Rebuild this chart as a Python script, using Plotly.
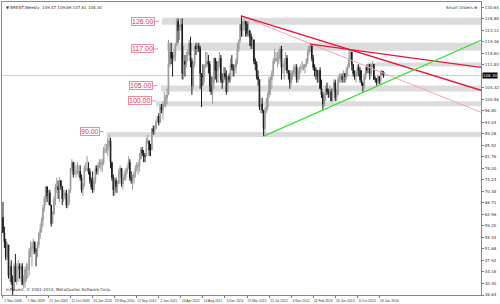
import plotly.graph_objects as go
import pandas as pd

# ---------------- data (weekly BRENT) ----------------
start_date = "2008-11-02"
first_open = 62.0

c2008 = [57, 54, 49, 53, 43, 46, 41, 38, 46]
h2008 = [67, 59, 55, 54, 52, 47, 48, 43, 47]
l2008 = [57, 52, 48, 48, 42, 41, 40, 36.5, 38]

c2009 = [41, 45, 46, 45, 46, 40, 41, 45, 45, 45, 51, 52, 52, 54, 51, 51, 53, 57, 58, 61, 65, 68, 72, 69, 70, 66,
         60, 63, 68, 72, 72, 71, 74, 72, 68, 69, 70, 66, 67, 71, 78, 80, 76, 77, 77, 77, 77, 75, 71, 73, 78, 78]
h2009 = [50, 47, 48, 47, 47, 47, 43, 46, 47, 47, 52, 54, 54, 55, 54, 52, 54, 57, 60, 62, 66, 69, 72, 72, 71, 71,
         66, 64, 69, 73, 75, 74, 75, 74, 72, 71, 71, 71, 69, 71, 78, 81, 80, 80, 79, 80, 79, 79, 76, 73, 79, 80]
l2009 = [41, 40, 41, 42, 41, 40, 39, 39, 41, 42, 43, 49, 46, 50, 50, 46, 49, 52, 55, 57, 59, 64, 66, 67, 66, 66,
         59, 60, 63, 66, 70, 68, 67, 71, 66, 67, 68, 65, 65, 66, 70, 77, 75, 76, 75, 76, 75, 74, 70, 69, 72, 77]

c2010 = [78, 77, 74, 72, 71, 74, 78, 77, 79, 79, 80, 80, 84, 84, 84, 87, 87, 80, 75, 71, 74, 72, 73, 77, 78, 73,
         75, 75, 77, 78, 80, 75, 74, 75, 76, 78, 79, 79, 81, 84, 83, 82, 82, 87, 87, 84, 84, 91, 90, 91, 93, 95]
h2010 = [82, 80, 78, 75, 77, 75, 79, 79, 80, 81, 81, 81, 85, 86, 86, 88, 89, 88, 80, 76, 75, 75, 74, 78, 79, 78,
         76, 77, 78, 79, 82, 81, 77, 76, 77, 79, 80, 80, 83, 85, 85, 84, 83, 88, 89, 87, 86, 91, 92, 92, 94, 95]
l2010 = [77, 76, 73, 71, 70, 70, 73, 76, 76, 78, 77, 77, 79, 83, 83, 82, 85, 78, 74, 69, 69, 70, 70, 73, 75, 72,
         71, 74, 74, 76, 78, 74, 73, 71, 73, 75, 77, 76, 77, 81, 82, 80, 80, 83, 86, 82, 82, 84, 89, 89, 91, 93]

c2011 = [93, 98, 97, 99, 99, 101, 102, 112, 116, 114, 114, 115, 118, 126, 123, 124, 125, 109, 113, 112, 115, 115,
         119, 113, 105, 112, 118, 117, 118, 117, 109, 108, 108, 111, 112, 113, 112, 105, 103, 106, 114, 110, 110,
         113, 114, 107, 106, 109, 108, 103, 108, 107]
h2011 = [96, 99, 99, 100, 103, 102, 104, 120, 119, 119, 116, 117, 119, 127, 127, 125, 127, 127, 118, 115, 116, 117,
         120, 121, 114, 113, 118, 119, 119, 119, 118, 109, 112, 112, 116, 116, 115, 113, 108, 108, 114, 114, 113,
         113, 116, 115, 109, 111, 111, 110, 108, 109]
l2011 = [92, 93, 96, 94, 98, 98, 99, 103, 111, 112, 108, 113, 113, 118, 119, 120, 123, 107, 107, 108, 111, 113,
         115, 111, 102, 104, 111, 115, 116, 116, 104, 98, 105, 106, 111, 111, 109, 103, 102, 99, 104, 107, 106,
         106, 111, 106, 104, 107, 107, 102, 103, 106]

c2012 = [112, 111, 110, 111, 113, 117, 120, 125, 123, 126, 126, 125, 122, 123, 121, 118, 120, 113, 112, 108, 107,
         98, 99, 97, 91, 97, 98, 102, 107, 107, 109, 113, 113, 114, 114, 114, 117, 111, 112, 112, 114, 110, 109,
         106, 109, 109, 111, 111, 107, 109, 111, 111, 111]
h2012 = [114, 115, 112, 112, 114, 119, 120, 125, 128, 126, 127, 126, 126, 126, 123, 122, 121, 120, 114, 113, 110,
         107, 101, 101, 97, 98, 101, 103, 108, 108, 110, 114, 117, 116, 116, 117, 118, 118, 113, 114, 116, 115, 110,
         110, 110, 110, 112, 112, 112, 110, 111, 112, 113]
l2012 = [106, 110, 108, 108, 109, 112, 116, 119, 121, 121, 123, 121, 121, 121, 118, 117, 117, 112, 110, 107, 105,
         97, 96, 96, 88.5, 89, 96, 97, 101, 102, 104, 108, 112, 113, 111, 112, 113, 107, 109, 107, 110, 109, 107,
         104, 105, 107, 108, 108, 106, 106, 107, 109, 110]

c2013 = [111, 112, 113, 116, 118, 118, 114, 111, 110, 110, 108, 110, 104, 102, 99, 102, 104, 103, 102, 103, 100,
         104, 106, 101, 102, 107, 108, 108, 107, 109, 108, 110, 111, 114, 116, 112, 109, 108, 109, 111, 110, 107,
         106, 105, 108, 111, 110, 112, 109, 112, 112, 107]
h2013 = [112, 112, 114, 117, 118, 119, 118, 115, 112, 111, 110, 110, 111, 107, 103, 103, 105, 106, 104, 105, 104,
         104, 107, 107, 104, 108, 109, 109, 109, 110, 109, 111, 112, 117, 117, 115, 112, 110, 110, 112, 112, 111,
         110, 106, 109, 111, 112, 112, 112, 112, 113, 112]
l2013 = [110, 109, 111, 112, 115, 116, 113, 110, 108, 107, 106, 106, 104, 101, 97, 98, 100, 102, 101, 101, 100,
         100, 103, 100, 100, 102, 106, 106, 106, 106, 106, 107, 108, 111, 113, 110, 108, 107, 106, 108, 108, 106,
         105, 103, 104, 107, 109, 109, 107, 108, 111, 107]

c2014 = [107, 106, 108, 106.5, 109.5, 109.47, 108.30]
h2014 = [108, 107.5, 108.5, 108, 110, 110, 109.69]
l2014 = [106, 105, 105.5, 105.5, 105.5, 108.5, 107.61]

# date tick labels (MT4 style)
date_labels = ["2 Nov 2008", "1 Mar 2009", "21 Jun 2009", "11 Oct 2009", "31 Jan 2010", "23 May 2010",
               "12 Sep 2010", "2 Jan 2011", "24 Apr 2011", "14 Aug 2011", "4 Dec 2011", "25 Mar 2012",
               "15 Jul 2012", "4 Nov 2012", "24 Feb 2013", "16 Jun 2013", "6 Oct 2013", "26 Jan 2014"]

# horizontal support/resistance zones: (low, high, first bar index)
zone_low = [124.9, 116.4, 111.3, 103.1, 98.3, 88.2]
zone_high = [127.2, 119.0, 112.6, 105.1, 99.9, 89.9]
zone_start = [115.3, 118.9, 265.0, 114.6, 111.0, 75.2]

# level labels
level_values = [126.0, 117.0, 105.0, 100.0, 90.0]
level_label_x = [110.3, 109.6, 108.9, 108.2, 70.2]

# trend lines: (bar index, price) anchors
red_main = [(172.6, 127.8), (346.7, 103.5)]
red_second = [(222.8, 118.6), (346.7, 111.0)]
pink_line = [(172.6, 127.8), (346.7, 96.3)]
green_line = [(189.1, 88.5), (346.7, 119.8)]

bid_price = 108.30
title_text = "\u25bc BRENT,Weekly  109.47 109.69 107.61 108.30"

# ---------------- build ----------------
closes = c2008 + c2009 + c2010 + c2011 + c2012 + c2013 + c2014
highs_raw = h2008 + h2009 + h2010 + h2011 + h2012 + h2013 + h2014
lows_raw = l2008 + l2009 + l2010 + l2011 + l2012 + l2013 + l2014
opens = [first_open] + closes[:-1]
highs = [max(h, o, c) for h, o, c in zip(highs_raw, opens, closes)]
lows = [min(l, o, c) for l, o, c in zip(lows_raw, opens, closes)]
xs = list(range(len(closes)))

t0 = pd.Timestamp(start_date)
tick_pos = [(pd.Timestamp(s) - t0).days / 7.0 for s in date_labels]

fig = go.Figure()
fig.add_trace(go.Candlestick(
    x=xs, open=opens, high=highs, low=lows, close=closes,
    increasing=dict(line=dict(color="#9a9a9a", width=1), fillcolor="#9a9a9a"),
    decreasing=dict(line=dict(color="#1a1a1a", width=1), fillcolor="#1a1a1a"),
    whiskerwidth=0, hoverinfo="skip", showlegend=False,
))

shapes = []
for lo, hi, s in zip(zone_low, zone_high, zone_start):
    shapes.append(dict(type="rect", xref="x", yref="y", x0=s, x1=400, y0=lo, y1=hi,
                       fillcolor="#dcdcdc", line=dict(width=0), layer="below"))
shapes.append(dict(type="line", xref="paper", yref="y", x0=0, x1=1, y0=bid_price, y1=bid_price,
                   line=dict(color="#cfcfcf", width=1), layer="below"))
for v, lx in zip(level_values, level_label_x):
    shapes.append(dict(type="line", xref="x", yref="y", x0=lx, x1=lx + 2.9, y0=v, y1=v,
                       line=dict(color="#f08aa0", width=1)))
for pts, col, w in [(pink_line, "#f6a5b0", 1), (red_main, "#e5173a", 1.3),
                    (red_second, "#e5173a", 1.3), (green_line, "#3ee03e", 1.3)]:
    shapes.append(dict(type="line", xref="x", yref="y", x0=pts[0][0], y0=pts[0][1],
                       x1=pts[1][0], y1=pts[1][1], line=dict(color=col, width=w)))

annotations = []
for v, lx in zip(level_values, level_label_x):
    annotations.append(dict(x=lx, y=v, xref="x", yref="y", text="%.2f" % v, showarrow=False,
                            xanchor="right", yanchor="middle",
                            font=dict(family="Liberation Sans", size=7, color="#e2335e"),
                            bgcolor="white", bordercolor="#f08aa0", borderwidth=1, borderpad=0))
annotations.append(dict(x=1, y=bid_price, xref="paper", yref="y", text="%.2f" % bid_price,
                        showarrow=False, xanchor="left", yanchor="middle", xshift=1,
                        font=dict(family="DejaVu Sans", size=4, color="white"),
                        bgcolor="black", borderpad=0))
annotations.append(dict(x=0.004, y=0.997, xref="paper", yref="paper", text=title_text, showarrow=False,
                        xanchor="left", yanchor="top",
                        font=dict(family="DejaVu Sans", size=4, color="#333333")))
annotations.append(dict(x=0.995, y=0.997, xref="paper", yref="paper", text="Smart Orders \u2295",
                        showarrow=False, xanchor="right", yanchor="top",
                        font=dict(family="DejaVu Sans", size=4, color="#333333")))
annotations.append(dict(x=0.004, y=0.0, xref="paper", yref="paper",
                        text="inFinvest, \u00a9 2001-2014, MetaQuotes Software Corp.", showarrow=False,
                        xanchor="left", yanchor="bottom", yshift=1,
                        font=dict(family="DejaVu Sans", size=4, color="#333333")))

# price-axis ticks; the one hidden behind the bid label is skipped
y_ticks = [36.64 + 3.76 * k for k in range(26)]
y_ticks = [t for t in y_ticks if abs(t - bid_price) > 1.9]

fig.update_layout(
    width=500, height=304,
    margin=dict(l=1, r=14, t=1, b=8),
    paper_bgcolor="white", plot_bgcolor="white",
    shapes=shapes, annotations=annotations,
    showlegend=False, hovermode=False,
    xaxis=dict(range=[-0.716, 346.7], rangeslider=dict(visible=False), showgrid=False, zeroline=False,
               tickmode="array", tickvals=tick_pos, ticktext=date_labels, tickangle=0,
               ticks="outside", ticklen=2, tickcolor="#777777", ticklabelshift=10, ticklabelstandoff=0,
               tickfont=dict(family="Liberation Sans", size=3.4, color="#333333"),
               showline=True, linecolor="#8a8a8a", linewidth=1, mirror=True),
    yaxis=dict(range=[36.64, 132.33], side="right", showgrid=False, zeroline=False,
               tickmode="array", tickvals=y_ticks, ticktext=["%.2f" % t for t in y_ticks],
               ticks="outside", ticklen=2, tickcolor="#777777", ticklabelstandoff=0,
               tickfont=dict(family="DejaVu Sans", size=4, color="#333333"),
               showline=True, linecolor="#8a8a8a", linewidth=1, mirror=True),
)

fig.write_html("out.html", config={"displayModeBar": False})
